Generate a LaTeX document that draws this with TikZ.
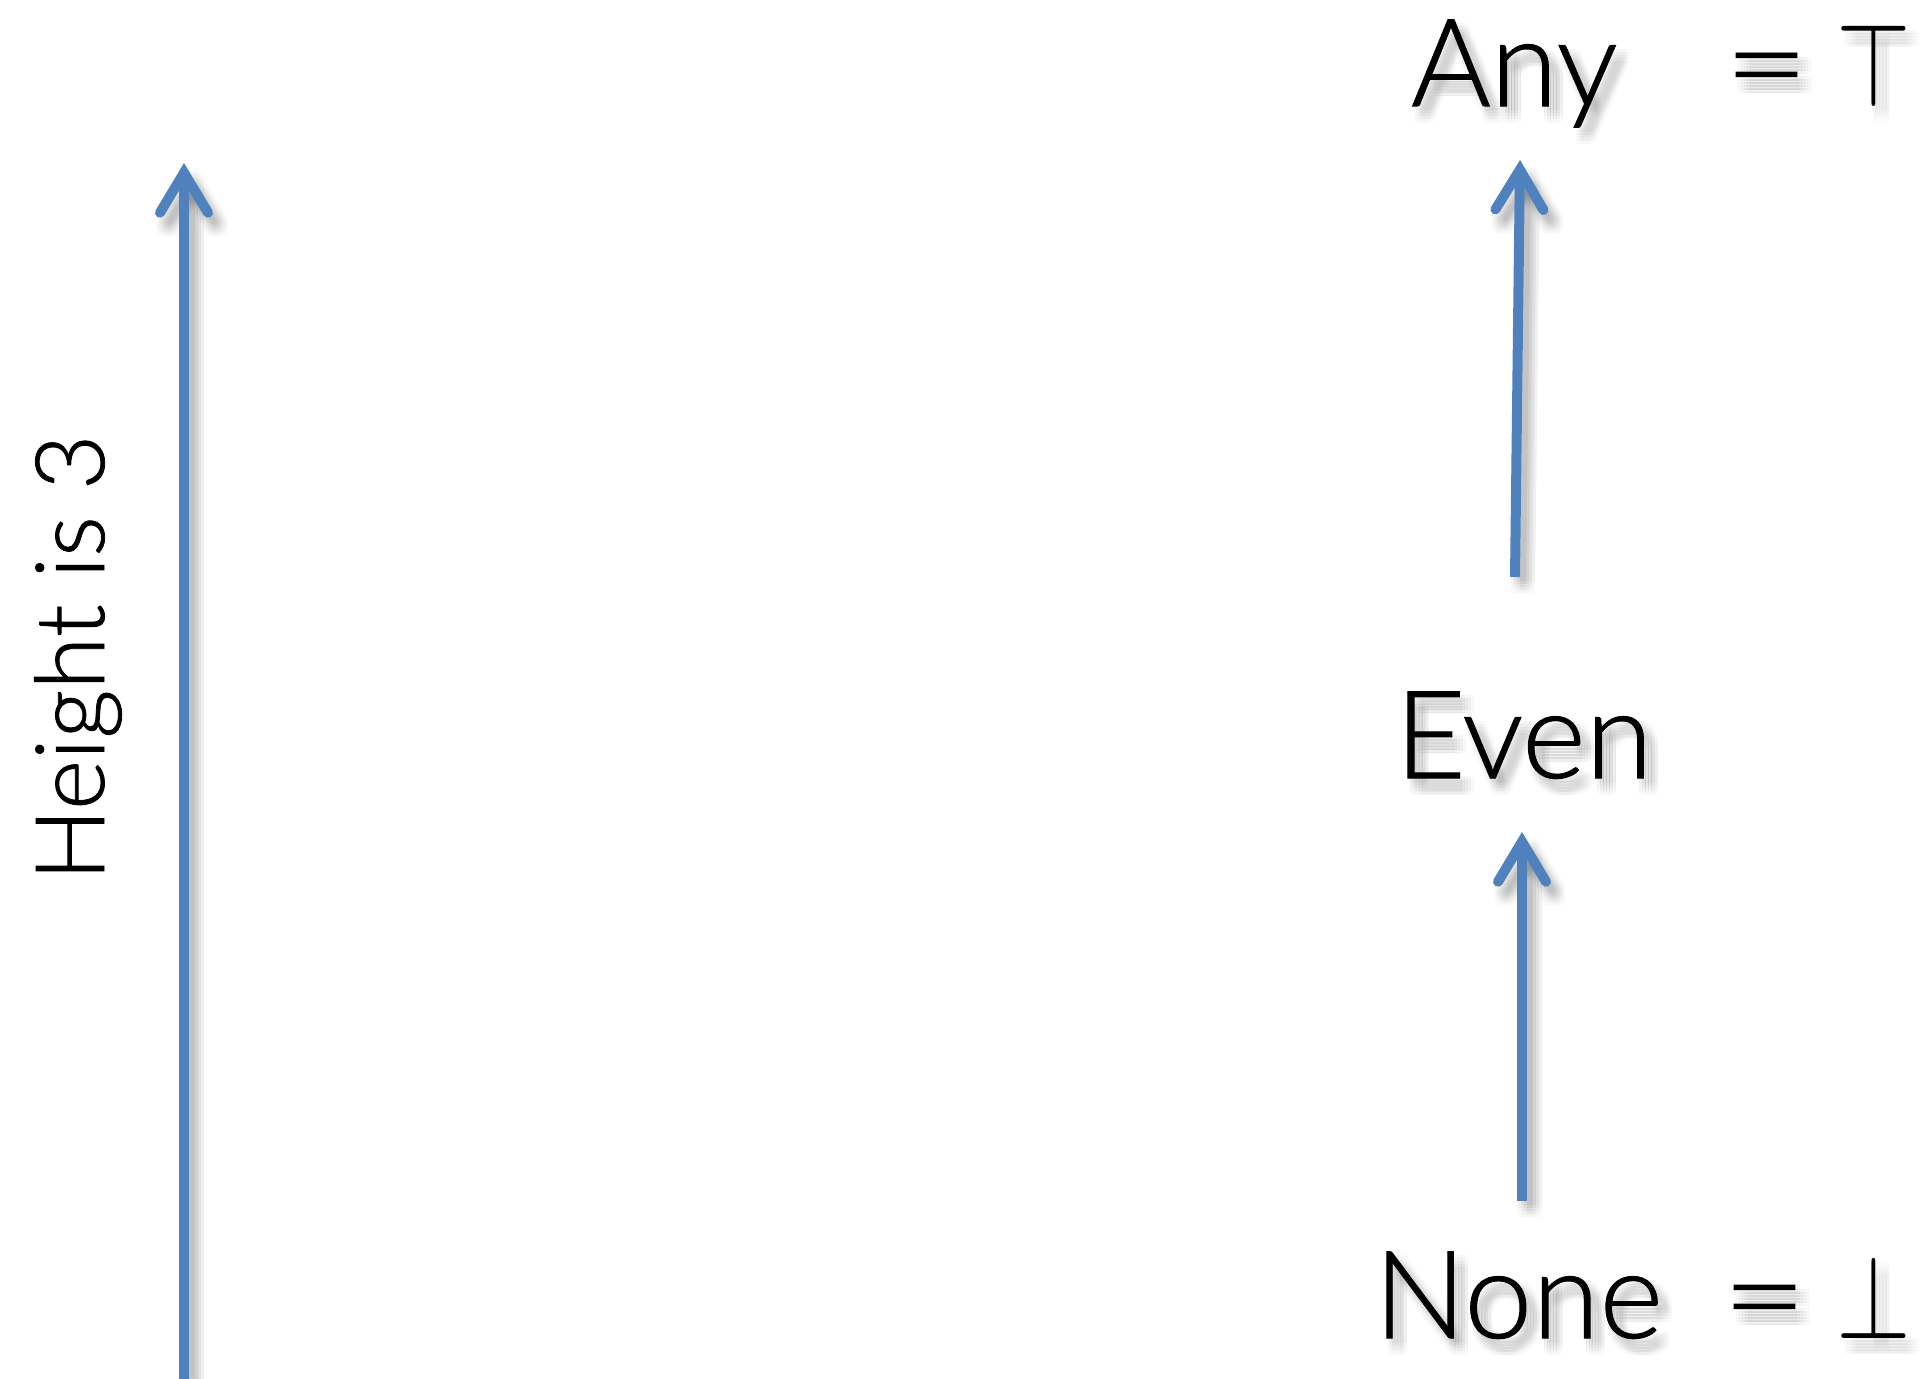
\RequirePackage{fix-cm}
\documentclass[tikz,border=0pt]{standalone}
\usepackage{fontspec}
\IfFontExistsTF{Lato Light}{\setmainfont{Lato Light}[FakeBold=0.8]}{\setmainfont{Lato}}
\usetikzlibrary{arrows.meta}
\definecolor{arrowblue}{HTML}{4F81BD}
\tikzset{
  lbl/.style={inner sep=0pt, outer sep=0pt, anchor=base west, font=\fontsize{61}{70}\selectfont},
  eqsign/.style={lbl, xscale=1.2, transform shape},
  sym/.style={lbl, xscale=0.8, transform shape, font=\fontsize{60}{70}\selectfont},
  side/.style={inner sep=0pt, outer sep=0pt, anchor=base west, rotate=90, font=\fontsize{48}{56}\selectfont},
  uparrow/.style={draw=arrowblue, line width=5pt,
    -{Straight Barb[length=20pt, width=24pt, line cap=round, line join=miter]}},
  shadowpath/.style={draw=black, line width=6pt, opacity=0.012,
    -{Straight Barb[length=20pt, width=24pt, line cap=round, line join=miter]}}
}
% soft drop shadow: a few faint, offset copies of a text node
\newcommand\softshadow[4]{% #1 name, #2 position, #3 style, #4 text
  \foreach \dx in {2,5,8,11,14}{
    \foreach \dy in {4,7,10,13,16}{
      \node[#3, text=black, opacity=0.013] (#1-\dx-\dy) at ([shift={(\dx,\dy)}]#2) {#4};
    }}}
\newcommand\softarrow[2]{% #1 start, #2 end (coordinate names)
  \foreach \dx in {2,5,8,11,14}{
    \foreach \dy in {4,7,10,13,16}{
      \path[shadowpath] ([shift={(\dx,\dy)}]#1) -- ([shift={(\dx,\dy)}]#2);
    }}}
\begin{document}
\begin{tikzpicture}[x=0.5pt, y=-0.5pt]
  \useasboundingbox[fill=white] (0,0) rectangle (1925,1378);

  % arrow end points
  \coordinate (hbot) at (184,1390);
  \coordinate (htop) at (184,163);
  \coordinate (evenout) at (1515,577);
  \coordinate (anyin) at (1520,160);
  \coordinate (noneout) at (1522,1201);
  \coordinate (evenin) at (1522,832);

  % text anchors
  \coordinate (pany) at (1411,106);
  \coordinate (panyeq) at (1724,106);
  \coordinate (ptop) at (1836,106);
  \coordinate (peven) at (1395,778);
  \coordinate (pnone) at (1374,1338);
  \coordinate (pnoneeq) at (1722,1338);
  \coordinate (pbot) at (1836,1338);

  % shadows
  \softshadow{shA}{pany}{lbl}{Any}
  \softshadow{shAe}{panyeq}{eqsign}{=}
  \softshadow{shAt}{ptop}{sym}{$\top$}
  \softshadow{shE}{peven}{lbl}{Even}
  \softshadow{shN}{pnone}{lbl}{None}
  \softshadow{shNe}{pnoneeq}{eqsign}{=}
  \softshadow{shNb}{pbot}{sym}{$\bot$}
  \softarrow{hbot}{htop}
  \softarrow{evenout}{anyin}
  \softarrow{noneout}{evenin}

  % lattice elements
  \node[lbl] (any) at (pany) {Any};
  \node[eqsign] (anyeq) at (panyeq) {=};
  \node[sym] (top) at (ptop) {$\top$};
  \node[lbl] (even) at (peven) {Even};
  \node[lbl] (none) at (pnone) {None};
  \node[eqsign] (noneeq) at (pnoneeq) {=};
  \node[sym] (bot) at (pbot) {$\bot$};

  % height axis
  \node[side] (height) at (104,881) {Height is 3};

  % ordering arrows
  \draw[uparrow] (hbot) -- (htop);
  \draw[uparrow] (evenout) -- (anyin);
  \draw[uparrow] (noneout) -- (evenin);
\end{tikzpicture}
\end{document}
